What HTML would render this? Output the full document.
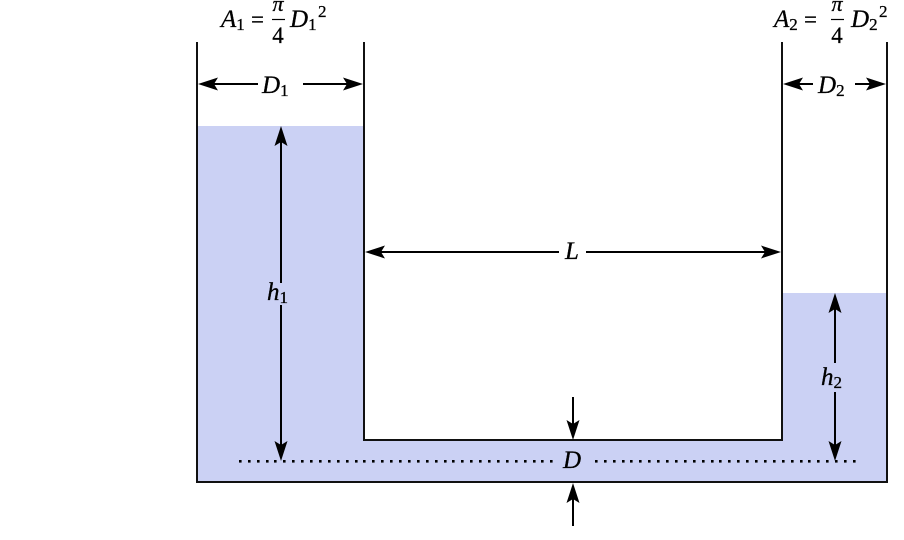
<!DOCTYPE html>
<html><head><meta charset="utf-8"><style>
html,body{margin:0;padding:0;background:#fff;}
svg{display:block;}
svg text{font-family:"Liberation Serif",serif;fill:#000;stroke:#000;stroke-width:0.3px;}
.i{font-style:italic;}
</style></head><body>
<svg width="904" height="540" viewBox="0 0 904 540" xmlns="http://www.w3.org/2000/svg">
<defs>
<path id="ah" d="M0,0 L-20,-6.5 L-16,0 L-20,6.5 Z" fill="#000"/>
</defs>
<!-- water -->
<rect x="197" y="126" width="167" height="356" fill="#cbd1f4"/>
<rect x="364" y="440" width="418" height="42" fill="#cbd1f4"/>
<rect x="782" y="293" width="105" height="189" fill="#cbd1f4"/>
<!-- walls -->
<g stroke="#111" stroke-width="2" fill="none">
<polyline points="197,42 197,482 887,482 887,42"/>
<polyline points="364,42 364,440 782,440 782,42"/>
</g>
<!-- dotted line -->
<g fill="#000">
<rect x="239" y="460" width="2.6" height="2.6"/><rect x="248" y="460" width="2.6" height="2.6"/><rect x="257" y="460" width="2.6" height="2.6"/><rect x="266" y="460" width="2.6" height="2.6"/><rect x="274" y="460" width="2.6" height="2.6"/><rect x="283" y="460" width="2.6" height="2.6"/><rect x="292" y="460" width="2.6" height="2.6"/><rect x="301" y="460" width="2.6" height="2.6"/><rect x="310" y="460" width="2.6" height="2.6"/><rect x="319" y="460" width="2.6" height="2.6"/><rect x="328" y="460" width="2.6" height="2.6"/><rect x="337" y="460" width="2.6" height="2.6"/><rect x="346" y="460" width="2.6" height="2.6"/><rect x="355" y="460" width="2.6" height="2.6"/><rect x="363" y="460" width="2.6" height="2.6"/><rect x="372" y="460" width="2.6" height="2.6"/><rect x="381" y="460" width="2.6" height="2.6"/><rect x="390" y="460" width="2.6" height="2.6"/><rect x="399" y="460" width="2.6" height="2.6"/><rect x="408" y="460" width="2.6" height="2.6"/><rect x="417" y="460" width="2.6" height="2.6"/><rect x="426" y="460" width="2.6" height="2.6"/><rect x="435" y="460" width="2.6" height="2.6"/><rect x="444" y="460" width="2.6" height="2.6"/><rect x="452" y="460" width="2.6" height="2.6"/><rect x="461" y="460" width="2.6" height="2.6"/><rect x="470" y="460" width="2.6" height="2.6"/><rect x="479" y="460" width="2.6" height="2.6"/><rect x="488" y="460" width="2.6" height="2.6"/><rect x="497" y="460" width="2.6" height="2.6"/><rect x="506" y="460" width="2.6" height="2.6"/><rect x="515" y="460" width="2.6" height="2.6"/><rect x="524" y="460" width="2.6" height="2.6"/><rect x="533" y="460" width="2.6" height="2.6"/><rect x="541" y="460" width="2.6" height="2.6"/><rect x="550" y="460" width="2.6" height="2.6"/>
<rect x="595" y="460" width="2.6" height="2.6"/><rect x="604" y="460" width="2.6" height="2.6"/><rect x="613" y="460" width="2.6" height="2.6"/><rect x="622" y="460" width="2.6" height="2.6"/><rect x="630" y="460" width="2.6" height="2.6"/><rect x="639" y="460" width="2.6" height="2.6"/><rect x="648" y="460" width="2.6" height="2.6"/><rect x="657" y="460" width="2.6" height="2.6"/><rect x="666" y="460" width="2.6" height="2.6"/><rect x="675" y="460" width="2.6" height="2.6"/><rect x="684" y="460" width="2.6" height="2.6"/><rect x="693" y="460" width="2.6" height="2.6"/><rect x="702" y="460" width="2.6" height="2.6"/><rect x="711" y="460" width="2.6" height="2.6"/><rect x="719" y="460" width="2.6" height="2.6"/><rect x="728" y="460" width="2.6" height="2.6"/><rect x="737" y="460" width="2.6" height="2.6"/><rect x="746" y="460" width="2.6" height="2.6"/><rect x="755" y="460" width="2.6" height="2.6"/><rect x="764" y="460" width="2.6" height="2.6"/><rect x="773" y="460" width="2.6" height="2.6"/><rect x="782" y="460" width="2.6" height="2.6"/><rect x="791" y="460" width="2.6" height="2.6"/><rect x="800" y="460" width="2.6" height="2.6"/><rect x="808" y="460" width="2.6" height="2.6"/><rect x="817" y="460" width="2.6" height="2.6"/><rect x="826" y="460" width="2.6" height="2.6"/><rect x="835" y="460" width="2.6" height="2.6"/><rect x="844" y="460" width="2.6" height="2.6"/><rect x="853" y="460" width="2.6" height="2.6"/>
</g>
<!-- dimension lines -->
<g stroke="#000" stroke-width="2" fill="none">
<line x1="205" y1="84" x2="258" y2="84"/><line x1="303" y1="84" x2="356" y2="84"/>
<line x1="790" y1="84" x2="813" y2="84"/><line x1="855" y1="84" x2="879" y2="84"/>
<line x1="372" y1="252" x2="559" y2="252"/><line x1="586" y1="252" x2="774" y2="252"/>
<line x1="281" y1="134" x2="281" y2="283"/><line x1="281" y1="305" x2="281" y2="453"/>
<line x1="835" y1="301" x2="835" y2="363"/><line x1="835" y1="392" x2="835" y2="453"/>
<line x1="573" y1="397" x2="573" y2="432"/><line x1="573" y1="490" x2="573" y2="526"/>
</g>
<!-- arrowheads -->
<use href="#ah" transform="translate(198,84) rotate(180)"/>
<use href="#ah" transform="translate(363,84)"/>
<use href="#ah" transform="translate(783,84) rotate(180)"/>
<use href="#ah" transform="translate(886,84)"/>
<use href="#ah" transform="translate(365,252) rotate(180)"/>
<use href="#ah" transform="translate(781,252)"/>
<use href="#ah" transform="translate(281,126) rotate(-90)"/>
<use href="#ah" transform="translate(281,461) rotate(90)"/>
<use href="#ah" transform="translate(835,293) rotate(-90)"/>
<use href="#ah" transform="translate(835,461) rotate(90)"/>
<use href="#ah" transform="translate(573,440) rotate(90)"/>
<use href="#ah" transform="translate(573,483) rotate(-90)"/>
<!-- labels -->
<text x="262" y="93" style="font-size:25px"><tspan class="i">D</tspan><tspan style="font-size:17px" dy="3">1</tspan></text>
<text x="818" y="93" style="font-size:25px"><tspan class="i">D</tspan><tspan style="font-size:17px" dy="3">2</tspan></text>
<text x="565" y="259" class="i" style="font-size:25px">L</text>
<text x="267" y="300" style="font-size:25px"><tspan class="i">h</tspan><tspan style="font-size:17px" dy="3">1</tspan></text>
<text x="821" y="385" style="font-size:25px"><tspan class="i">h</tspan><tspan style="font-size:17px" dy="3">2</tspan></text>
<text x="563" y="468" class="i" style="font-size:25px">D</text>
<!-- A1 formula -->
<text x="221" y="27" style="font-size:25px"><tspan class="i">A</tspan><tspan style="font-size:17px" dy="3">1</tspan></text>
<text x="251" y="27" style="font-size:23px">=</text>
<text x="278" y="11" text-anchor="middle" class="i" style="font-size:22px">π</text>
<line x1="272" y1="19.5" x2="285" y2="19.5" stroke="#000" stroke-width="1.2"/>
<text x="278" y="43" text-anchor="middle" style="font-size:23px">4</text>
<text x="290" y="27" style="font-size:25px"><tspan class="i">D</tspan><tspan style="font-size:17px" dy="3">1</tspan></text>
<text x="318" y="17" style="font-size:17px">2</text>
<!-- A2 formula -->
<text x="774" y="27" style="font-size:25px"><tspan class="i">A</tspan><tspan style="font-size:17px" dy="3">2</tspan></text>
<text x="804" y="27" style="font-size:23px">=</text>
<text x="837" y="11" text-anchor="middle" class="i" style="font-size:22px">π</text>
<line x1="831" y1="19.5" x2="844" y2="19.5" stroke="#000" stroke-width="1.2"/>
<text x="837" y="43" text-anchor="middle" style="font-size:23px">4</text>
<text x="851" y="27" style="font-size:25px"><tspan class="i">D</tspan><tspan style="font-size:17px" dy="3">2</tspan></text>
<text x="879" y="17" style="font-size:17px">2</text>
</svg>
</body></html>
